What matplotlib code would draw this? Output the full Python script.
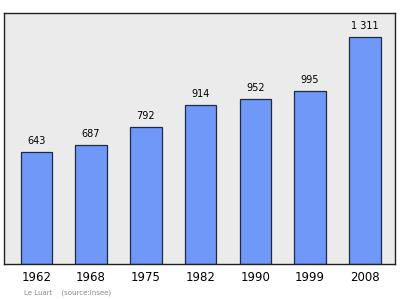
import matplotlib
matplotlib.use("Agg")
import matplotlib.pyplot as plt
import numpy as np

years = ["1962", "1968", "1975", "1982", "1990", "1999", "2008"]
population = [643, 687, 792, 914, 952, 995, 1311]
value_labels = ["643", "687", "792", "914", "952", "995", "1 311"]

fig = plt.figure(figsize=(4.0, 2.99), dpi=100)
ax = fig.add_axes([4 / 400, 35 / 299, 391 / 400, 251 / 299])
ax.set_facecolor('#ebebeb')

x = np.arange(len(years))
ax.bar(x, population, width=0.575, color='#6f98f8', edgecolor='#1f2a44', linewidth=0.9, zorder=2)

for xi, v, lab in zip(x, population, value_labels):
    ax.text(xi, v + 35, lab, ha='center', va='bottom', fontsize=7, color='black')

ax.set_xlim(-0.59, 6.55)
ax.set_ylim(0, 1447)
ax.set_yticks([])
ax.set_xticks(x)
ax.set_xticklabels(years, fontsize=8.5)
ax.tick_params(axis='x', length=0, pad=5)

for side in ['left', 'top', 'right', 'bottom']:
    ax.spines[side].set_color('#222222')
    ax.spines[side].set_linewidth(1.0)

fig.text(24 / 400, 1 - 293 / 299, "Le Luart    (source:Insee)", fontsize=5, color='#888888', va='center')

fig.savefig("out.png", dpi=100)
